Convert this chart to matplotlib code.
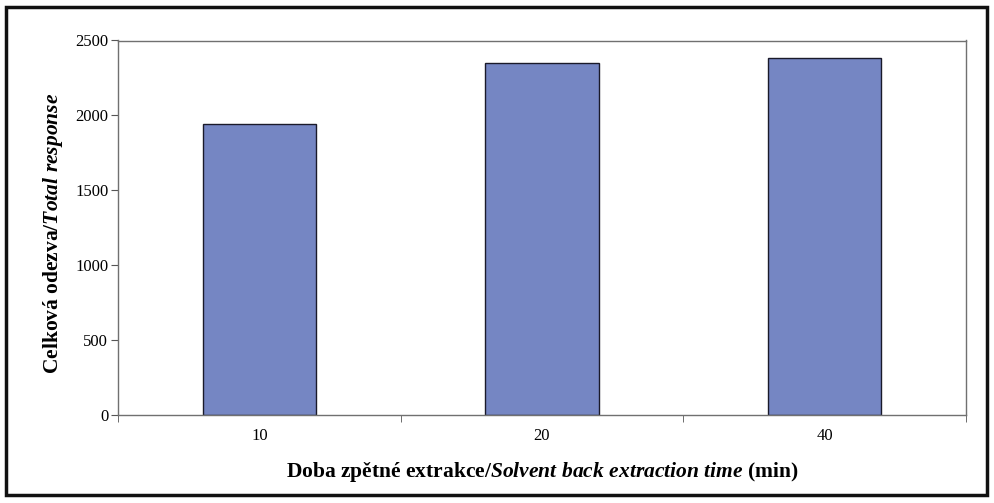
import matplotlib.pyplot as plt
from matplotlib.patches import Rectangle

# data
categories = ["10", "20", "40"]
values = [1945, 2348, 2380]
yticks = [0, 500, 1000, 1500, 2000, 2500]

plt.rcParams['font.family'] = 'Liberation Serif'
plt.rcParams['mathtext.fontset'] = 'custom'
plt.rcParams['mathtext.rm'] = 'Liberation Serif:bold'
plt.rcParams['mathtext.it'] = 'Liberation Serif:bold:italic'

fig = plt.figure(figsize=(9.95, 5.03), dpi=100)
ax = fig.add_axes([118 / 995, 88 / 503, 848 / 995, 374.5 / 503])

x = list(range(len(categories)))
ax.bar(x, values, width=0.4, color='#7586C3', edgecolor='#1a1a2a', linewidth=1.0)

ax.set_xlim(-0.5, len(categories) - 0.5)
ax.set_ylim(0, 2500)
ax.set_yticks(yticks)
ax.set_xticks(x)
ax.set_xticklabels(categories)
ax.set_xticks([i - 0.5 for i in range(len(categories) + 1)], minor=True)
ax.tick_params(axis='x', which='major', length=0, pad=9, labelsize=12)
ax.tick_params(axis='x', which='minor', length=5, color='#555555', direction='out')
ax.tick_params(axis='y', length=5, color='#555555', labelsize=12, pad=2)

for s in ax.spines.values():
    s.set_color('#707070')
    s.set_linewidth(1.0)

ax.set_xlabel(r"Doba zpětné extrakce/$\mathit{Solvent\ back\ extraction\ time}$ (min)",
              fontsize=15.5, fontweight='bold', labelpad=12)
ax.set_ylabel(r"Celková odezva/$\mathit{Total\ response}$",
              fontsize=15.5, fontweight='bold')
ax.yaxis.set_label_coords(-0.062, 0.485)

# outer frame
fig.patches.append(Rectangle((6 / 995, 8 / 503), 981 / 995, 488 / 503,
                             transform=fig.transFigure, fill=False,
                             edgecolor='#111111', linewidth=2.5))

fig.savefig('out.png', dpi=100)
